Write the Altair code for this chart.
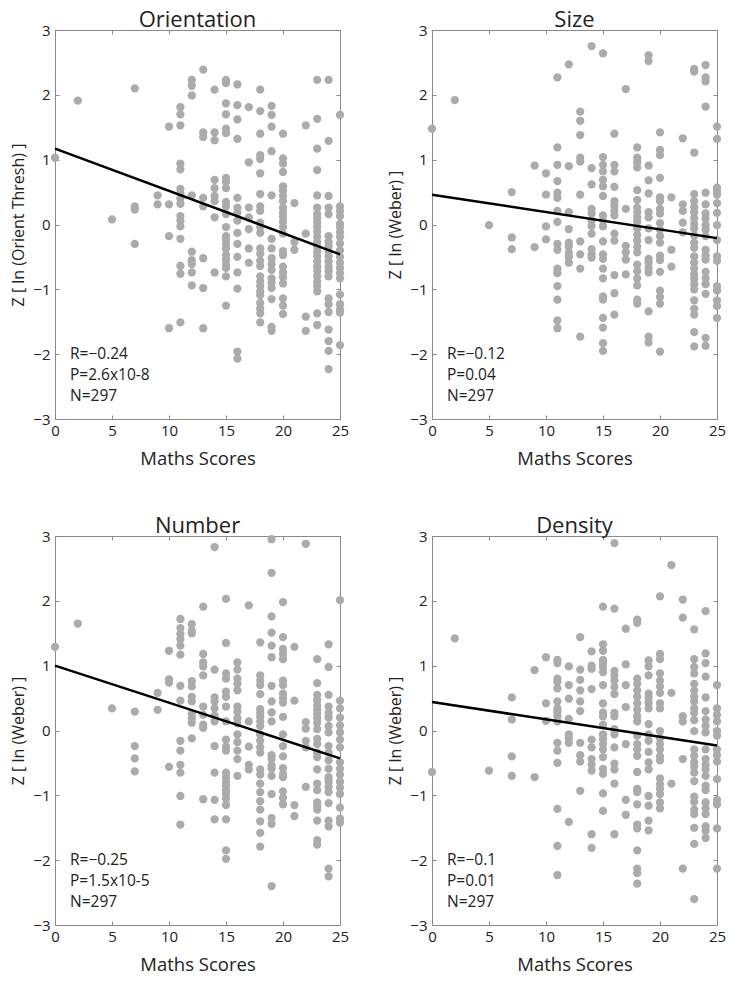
import altair as alt
import pandas as pd

# ---------------- data ----------------
X_TICKS = [0, 5, 10, 15, 20, 25]
Y_TICKS = [-3, -2, -1, 0, 1, 2, 3]
FIT_X = [0, 25]

ORIENT = {
    0: [1.03], 2: [1.91], 5: [0.08],
    7: [2.10, 0.28, 0.23, -0.30],
    9: [0.45, 0.31],
    10: [1.51, 0.31, -0.18, -1.60],
    11: [1.81, 1.70, 1.53, 0.94, 0.85, 0.55, 0.48, 0.40, 0.32, 0.13, 0.06, -0.03, -0.22, -0.64, -0.76, -1.51],
    12: [2.23, 2.14, 1.99, 0.45, -0.42, -0.55, -0.61, -0.74, -0.94],
    13: [2.39, 1.42, 1.35, 0.41, 0.28, -0.52, -0.98, -1.60],
    14: [2.08, 1.42, 1.30, 0.69, 0.56, 0.44, 0.36, 0.11, -0.74],
    15: [2.23, 2.18, 1.87, 1.70, 1.48, 1.41, 0.72, 0.66, 0.56, 0.35, 0.28, 0.16, -0.04, -0.18, -0.24, -0.30, -0.37, -0.47, -0.54, -0.62, -0.67, -0.80, -1.25],
    16: [2.16, 1.84, 1.62, 1.32, 0.41, 0.26, 0.18, 0.06, -0.13, -0.30, -0.50, -0.74, -0.99, -1.96, -2.07],
    17: [1.81, 0.96, 0.26, 0.11, -0.07, -0.37, -0.59],
    18: [2.08, 1.75, 1.40, 1.07, 1.01, 0.79, 0.47, 0.28, 0.21, 0.03, -0.04, -0.13, -0.37, -0.45, -0.56, -0.64, -0.80, -0.88, -0.95, -1.03, -1.09, -1.21, -1.30, -1.37, -1.51],
    19: [1.83, 1.69, 1.51, 1.13, 0.45, -0.22, -0.37, -0.52, -0.61, -0.70, -0.83, -0.90, -0.98, -1.15, -1.58, -1.64],
    20: [1.40, 1.02, 0.94, 0.81, 0.59, 0.52, 0.44, 0.36, 0.26, 0.18, 0.12, 0.04, -0.04, -0.14, -0.41, -0.47, -0.65, -0.74, -0.81, -0.91, -1.14, -1.25, -1.38],
    21: [0.33, -0.27, -0.39],
    22: [1.53, -0.14, -1.42, -1.64],
    23: [2.23, 1.63, 1.17, 0.84, 0.45, 0.26, 0.16, 0.10, 0.03, -0.04, -0.11, -0.19, -0.27, -0.34, -0.42, -0.49, -0.57, -0.65, -0.72, -0.80, -0.88, -0.95, -1.03, -1.37, -1.55],
    24: [2.23, 1.29, 0.44, 0.26, 0.16, -0.18, -0.27, -0.34, -0.42, -0.49, -0.57, -0.65, -0.72, -0.80, -1.14, -1.23, -1.35, -1.62, -1.80, -1.95, -2.23],
    25: [1.69, 0.28, 0.21, 0.13, 0.01, -0.04, -0.12, -0.19, -0.29, -0.40, -0.50, -0.59, -0.67, -0.75, -0.83, -1.08, -1.23, -1.31, -1.36, -1.86],
}

SIZE = {
    0: [1.48], 2: [1.92], 5: [-0.01],
    7: [0.50, -0.20, -0.38],
    9: [0.91, -0.35],
    10: [0.79, 0.46, -0.03, -0.23],
    11: [2.27, 1.19, 0.92, 0.67, 0.49, 0.41, 0.21, 0.04, -0.30, -0.39, -0.68, -0.75, -0.95, -1.16, -1.48, -1.60],
    12: [2.47, 0.90, 0.19, -0.07, -0.28, -0.34, -0.44, -0.50, -0.59],
    13: [1.74, 1.60, 1.38, 1.03, 0.97, 0.46, -0.26, -0.46, -0.68, -1.73],
    14: [2.75, 0.87, 0.62, 0.24, 0.17, 0.06, -0.02, -0.14, -0.38, -0.46, -0.51],
    15: [2.64, 1.04, 0.92, 0.82, 0.69, 0.59, 0.44, 0.14, 0.06, -0.03, -0.26, -0.46, -0.53, -0.68, -0.83, -1.11, -1.16, -1.44, -1.59, -1.83, -1.95],
    16: [1.40, 0.92, 0.82, 0.58, 0.36, 0.29, 0.21, 0.14, -0.14, -0.25, -0.78, -1.06, -1.39],
    17: [2.09, 0.24, -0.33, -0.43, -0.54, -0.77],
    18: [1.19, 1.03, 0.96, 0.88, 0.53, 0.38, 0.26, 0.19, 0.11, 0.04, -0.06, -0.16, -0.25, -0.34, -0.43, -0.62, -0.72, -0.83, -0.94, -1.16, -1.22],
    19: [2.61, 2.52, 0.91, 0.68, 0.48, 0.19, 0.11, -0.06, -0.24, -0.53, -0.59, -0.67, -0.74, -1.34, -1.73, -1.82],
    20: [1.42, 1.15, 1.07, 0.72, 0.42, 0.36, 0.24, 0.17, 0.02, -0.08, -0.18, -0.28, -0.48, -0.55, -0.73, -1.02, -1.12, -1.22, -1.96],
    21: [0.42, -0.39, -0.65],
    22: [1.33, 0.31, 0.21, 0.03, -0.12],
    23: [2.40, 2.36, 1.11, 0.47, 0.36, 0.27, 0.19, 0.10, 0.01, -0.06, -0.17, -0.28, -0.36, -0.49, -0.59, -0.68, -0.77, -0.84, -0.92, -1.00, -1.17, -1.30, -1.39, -1.66, -1.88],
    24: [2.46, 2.27, 2.21, 1.82, 0.49, 0.31, 0.17, 0.09, -0.01, -0.08, -0.18, -0.39, -0.48, -0.54, -0.73, -0.83, -0.92, -1.07, -1.75, -1.87],
    25: [1.51, 1.32, 0.57, 0.52, 0.46, 0.33, 0.18, -0.01, -0.24, -0.49, -0.56, -0.95, -1.02, -1.17, -1.26, -1.44],
}

NUMBER = {
    0: [1.29], 2: [1.65], 5: [0.34],
    7: [0.29, -0.24, -0.43, -0.63],
    9: [0.58, 0.32],
    10: [1.23, 0.79, 0.74, -0.56],
    11: [1.72, 1.58, 1.49, 1.41, 1.31, 1.17, 0.69, 0.46, -0.16, -0.31, -0.53, -0.65, -1.01, -1.45],
    12: [1.64, 1.54, 1.50, 0.76, 0.68, 0.52, 0.45, 0.26, 0.19, 0.12, -0.12],
    13: [1.91, 1.18, 1.05, 0.99, 0.85, 0.37, 0.24, 0.09, 0.04, -1.06],
    14: [2.83, 0.94, 0.51, 0.45, 0.34, 0.23, 0.14, -0.24, -0.65, -1.07, -1.37],
    15: [2.03, 1.35, 0.88, 0.80, 0.60, 0.52, 0.37, 0.14, -0.14, -0.25, -0.31, -0.65, -0.72, -0.79, -0.85, -0.92, -0.98, -1.05, -1.15, -1.37, -1.85, -1.98],
    16: [1.05, 0.94, 0.80, 0.72, 0.62, 0.37, 0.29, 0.19, 0.11, -0.06, -0.18, -0.31, -0.44, -0.70],
    17: [1.93, 0.14, -0.25, -0.53, -0.60],
    18: [1.36, 0.85, 0.77, 0.70, 0.56, 0.33, 0.27, 0.21, 0.14, 0.07, -0.06, -0.16, -0.26, -0.34, -0.60, -0.68, -0.82, -0.95, -1.09, -1.22, -1.40, -1.58, -1.79],
    19: [2.95, 2.43, 1.76, 1.51, 1.31, 1.13, 0.69, 0.45, 0.28, 0.14, -0.38, -0.44, -0.54, -0.59, -0.70, -0.98, -1.35, -1.44, -2.40],
    20: [1.98, 1.44, 1.26, 1.18, 1.10, 0.77, 0.70, 0.57, 0.50, 0.43, 0.21, -0.06, -0.24, -0.40, -0.58, -0.67, -0.72, -0.94, -1.04, -1.14],
    21: [1.29, 0.46, -1.15, -1.32],
    22: [2.88, 0.13, 0.03, -0.16, -0.26, -0.87],
    23: [1.10, 0.73, 0.55, 0.47, 0.39, 0.32, 0.26, 0.19, 0.12, 0.02, -0.13, -0.21, -0.34, -0.41, -0.60, -0.82, -0.92, -1.11, -1.17, -1.22, -1.39, -1.69, -1.76],
    24: [1.33, 0.98, 0.55, 0.37, 0.27, 0.20, 0.07, -0.03, -0.24, -0.34, -0.46, -0.59, -0.72, -0.79, -0.87, -0.95, -1.12, -1.39, -1.48, -2.13, -2.25],
    25: [2.01, 0.46, 0.34, 0.20, 0.08, -0.03, -0.14, -0.26, -0.49, -0.59, -0.68, -0.79, -0.88, -0.98, -1.19, -1.36, -1.42],
}

DENSITY = {
    0: [-0.64], 2: [1.42], 5: [-0.62],
    7: [0.51, 0.17, -0.40, -0.70],
    9: [0.93, -0.72],
    10: [1.13, 0.42, 0.15],
    11: [1.09, 1.04, 0.80, 0.75, 0.65, 0.45, 0.34, 0.29, 0.22, 0.14, -0.19, -0.31, -0.50, -1.21, -1.78, -2.23],
    12: [0.99, 0.70, 0.49, 0.18, -0.06, -0.12, -0.19, -1.41],
    13: [1.44, 0.94, 0.78, 0.62, 0.45, 0.30, -0.19, -0.38, -0.48, -0.93],
    14: [1.22, 1.00, 0.95, 0.64, -0.14, -0.26, -0.44, -0.53, -0.62, -1.60, -1.81],
    15: [1.91, 1.33, 1.23, 1.09, 1.04, 0.98, 0.90, 0.70, 0.42, 0.28, 0.22, 0.09, -0.06, -0.13, -0.21, -0.29, -0.41, -0.59, -0.67, -0.97, -1.24],
    16: [2.89, 1.88, 0.92, 0.85, 0.77, 0.67, 0.56, 0.27, 0.22, 0.02, -0.06, -0.26, -0.51, -0.60, -0.82, -1.60],
    17: [1.57, 1.02, 0.70, 0.36, -0.21, -1.07, -1.30],
    18: [1.71, 1.66, 0.80, 0.72, 0.62, 0.52, 0.42, 0.32, 0.22, 0.14, -0.08, -0.21, -0.29, -0.39, -0.64, -0.90, -0.95, -1.14, -1.45, -1.51, -1.85, -2.13, -2.20, -2.36],
    19: [1.08, 0.99, 0.85, 0.57, 0.50, 0.42, 0.34, 0.10, -0.06, -0.16, -0.33, -0.49, -0.60, -1.01, -1.16, -1.39, -1.54],
    20: [2.07, 1.18, 1.10, 0.88, 0.77, 0.68, 0.58, 0.42, 0.34, -0.01, -0.12, -0.21, -0.29, -0.40, -0.46, -0.74, -0.83, -0.90, -0.98, -1.11, -1.20],
    21: [2.55, 0.58, -0.82],
    22: [2.02, 1.74, 0.22, 0.14, -0.44, -2.13],
    23: [1.56, 1.10, 0.98, 0.88, 0.72, 0.62, 0.52, 0.45, 0.34, 0.27, 0.16, -0.01, -0.29, -0.39, -0.49, -0.56, -0.65, -0.78, -1.02, -1.10, -1.22, -1.29, -1.50, -1.75, -2.60],
    24: [1.84, 1.19, 1.04, 0.83, 0.51, 0.30, 0.17, 0.07, -0.03, -0.29, -0.44, -0.53, -0.60, -0.70, -0.85, -0.92, -1.11, -1.20, -1.29, -1.48, -1.55, -1.66],
    25: [0.70, 0.34, 0.24, 0.14, -0.01, -0.08, -0.29, -0.38, -0.48, -0.75, -1.07, -1.14, -1.51, -2.13],
}

TITLES = ["Orientation", "Size", "Number", "Density"]
Y_TITLES = ["Z [ ln (Orient Thresh) ]", "Z [ ln (Weber) ]", "Z [ ln (Weber) ]", "Z [ ln (Weber) ]"]
FITS = [(1.17, -0.46), (0.46, -0.21), (1.00, -0.43), (0.44, -0.23)]
STATS = [
    ["R=\u22120.24", "P=2.6x10-8", "N=297"],
    ["R=\u22120.12", "P=0.04", "N=297"],
    ["R=\u22120.25", "P=1.5x10-5", "N=297"],
    ["R=\u22120.1", "P=0.01", "N=297"],
]
DATASETS = [ORIENT, SIZE, NUMBER, DENSITY]

# ---------------- styling ----------------
W, H = 285, 389
FONT = "Open Sans"
PT = "#ababab"
BOX = "#8a8a8a"
TXT = "#222222"
STAT_ROWS_Y = [324, 345, 366]   # pixel rows of the three annotation lines inside the plot


def panel(title, ytitle, d, fit, stats):
    df = pd.DataFrame([(s, z) for s, zs in d.items() for z in zs], columns=["score", "z"])
    fit_df = pd.DataFrame({"score": FIT_X, "z": list(fit)})
    xs = alt.Scale(domain=[0, 25], nice=False, zero=False)
    ys = alt.Scale(domain=[-3, 3], nice=False, zero=False)

    pts = alt.Chart(df).mark_circle(size=68, color=PT, opacity=1).encode(
        x=alt.X("score:Q", scale=xs,
                axis=alt.Axis(values=X_TICKS, title="Maths Scores", ticks=False, domain=False,
                              grid=False, labelPadding=4, titlePadding=11, labelFlush=False,
                              titleFontSize=18.5)),
        y=alt.Y("z:Q", scale=ys,
                axis=alt.Axis(values=Y_TICKS, title=ytitle, ticks=False, domain=False,
                              grid=False, labelPadding=5, titlePadding=6, labelFlush=False,
                              titleFontSize=16)),
    )
    line = alt.Chart(fit_df).mark_line(color="black", strokeWidth=2.5).encode(
        x=alt.X("score:Q", scale=xs,
                axis=alt.Axis(orient="top", offset=-H, values=X_TICKS, labels=False, domain=False,
                              grid=False, title="", tickSize=4, tickColor=BOX)),
        y=alt.Y("z:Q", scale=ys,
                axis=alt.Axis(orient="right", offset=-W, values=Y_TICKS, labels=False, domain=False,
                              grid=False, title="", tickSize=4, tickColor=BOX)),
    )
    ticks = alt.Chart(fit_df).mark_point(opacity=0).encode(
        x=alt.X("score:Q", scale=xs,
                axis=alt.Axis(orient="bottom", offset=-H, values=X_TICKS, labels=False, domain=False,
                              grid=False, title="", tickSize=4, tickColor=BOX)),
        y=alt.Y("z:Q", scale=ys,
                axis=alt.Axis(orient="left", offset=-W, values=Y_TICKS, labels=False, domain=False,
                              grid=False, title="", tickSize=4, tickColor=BOX)),
    )
    texts = []
    for line_text, ypix in zip(stats, STAT_ROWS_Y):
        texts.append(
            alt.Chart(pd.DataFrame({"label": [line_text]})).mark_text(
                align="left", baseline="middle", font=FONT, fontSize=15.5, color=TXT,
            ).encode(x=alt.value(15), y=alt.value(ypix), text="label:N")
        )

    return alt.layer(pts, line, ticks, *texts).resolve_axis(
        x="independent", y="independent"
    ).properties(
        width=W, height=H,
        title=alt.TitleParams(title, fontSize=22, font=FONT, fontWeight="normal", color=TXT, offset=-9),
    )


panels = [panel(t, yt, d, f, s) for t, yt, d, f, s in zip(TITLES, Y_TITLES, DATASETS, FITS, STATS)]

chart = alt.concat(
    *panels, columns=2, spacing={"row": 117, "column": 92}, bounds="flush"
).properties(
    padding={"top": 0, "left": 2, "right": 0, "bottom": 0}
).configure_view(
    stroke=BOX, strokeWidth=1
).configure_axis(
    labelFont=FONT, titleFont=FONT, labelFontSize=15,
    labelColor=TXT, titleColor=TXT, titleFontWeight="normal"
)

chart.save("out.html", embed_options={"renderer": "svg", "actions": False})
